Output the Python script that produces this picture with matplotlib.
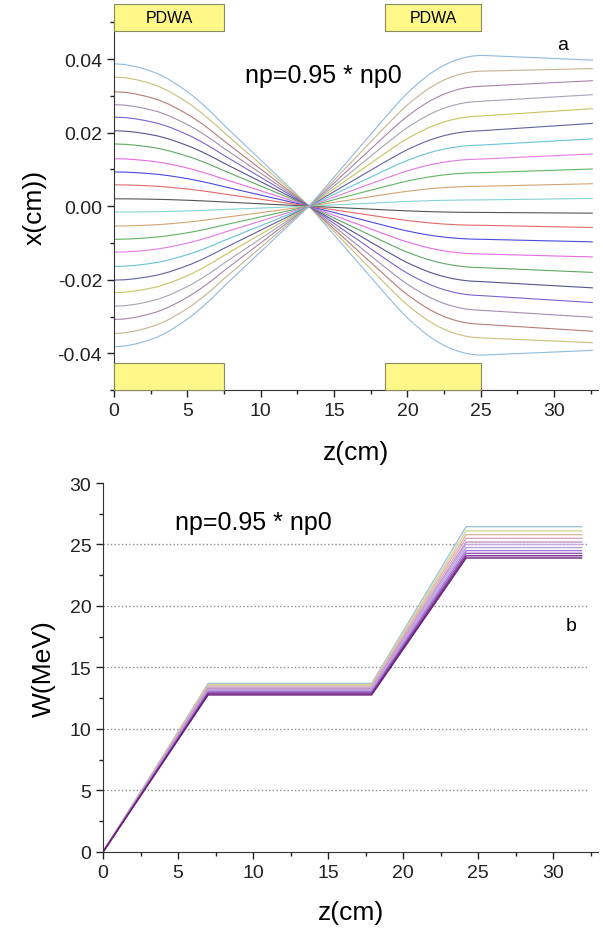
import numpy as np
import matplotlib
matplotlib.use('Agg')
import matplotlib.pyplot as plt
from matplotlib.patches import Rectangle
from matplotlib.ticker import MultipleLocator, FormatStrFormatter

plt.rcParams['font.family'] = 'Liberation Sans'

# ---- panel a: transverse trajectories --------------------------------------
# shape of the trajectories (normalised)
z_left = [0.0, 0.75, 1.5, 2.25, 3.0, 3.75, 4.5, 5.25, 6.0, 6.75, 7.5, 13.3]
prof_left = [1.0, 0.995, 0.98, 0.958, 0.93, 0.89, 0.84, 0.785, 0.72, 0.648, 0.57, 0.0]
z_right = [13.3, 18.5, 19.0, 19.5, 20.0, 20.5, 21.0, 21.5, 22.0, 22.5, 23.0, 23.5, 24.0, 24.5, 25.0]
prof_right = [0.0, 0.59, 0.645, 0.70, 0.75, 0.795, 0.837, 0.875, 0.907, 0.935, 0.957, 0.975, 0.988,
              0.996, 1.0]
z_stop = 32.6

# per-trajectory values: x at z=0, at z=25 and at the end
x_start = [0.0387, 0.0351, 0.0311, 0.0276, 0.0242, 0.0205, 0.0169, 0.0129, 0.0093, 0.0058, 0.0020,
           -0.0016, -0.0054, -0.0090, -0.0125, -0.0164, -0.0201, -0.0235, -0.0272, -0.0308, -0.0346, -0.0382]
x_at25 = [-0.0405, -0.0358, -0.0321, -0.0283, -0.0243, -0.0205, -0.0167, -0.0130, -0.0090, -0.0052, -0.0017,
          0.0017, 0.0054, 0.0091, 0.0128, 0.0166, 0.0205, 0.0245, 0.0285, 0.0326, 0.0367, 0.0410]
x_end = [-0.0392, -0.0371, -0.0340, -0.0302, -0.0262, -0.0222, -0.0180, -0.0138, -0.0097, -0.0058, -0.0019,
         0.0021, 0.0061, 0.0101, 0.0142, 0.0183, 0.0225, 0.0265, 0.0303, 0.0341, 0.0374, 0.0397]
traj_colors = ['#8fbcdc', '#c8c07a', '#b87a78', '#a38fb0', '#7d62d0', '#55558f', '#5fa862', '#e46be4',
               '#4a4ae0', '#e26a6a', '#555555', '#86d2d2', '#d4a474', '#62b462', '#e47ae4', '#68c4d8',
               '#62629e', '#c4c460', '#a4a4b4', '#a884a8', '#c4b490', '#90b8dc']

# ---- panel b: energy gain ----------------------------------------------------
z_w = [0.0, 7.0, 17.9, 24.2, 31.9]
w_stage1 = [13.70, 13.60, 13.50, 13.40, 13.30, 13.20, 13.12, 13.04, 12.95, 12.85, 12.76]
w_stage2 = [26.45, 26.10, 25.80, 25.50, 25.20, 25.00, 24.75, 24.50, 24.28, 24.08, 23.90]
w_colors = ['#9ec4dc', '#d8d49a', '#dcb89c', '#d8a8c8', '#c494c4', '#c8a8e4', '#b4a0dc',
            '#a878d8', '#9458b8', '#7a2c90', '#682078']

box_fc = '#fdf887'
box_ec = '#8a8a60'

fig = plt.figure(figsize=(6.03, 9.29), dpi=100)
fig.patch.set_facecolor('white')

# ── top panel ────────────────────────────────────────────────────────────────
ax = fig.add_axes([0.189, 0.579, 0.803, 0.396])
for i in range(len(x_start)):
    zz = np.concatenate([z_left, z_right[1:], [z_stop]])
    xx = np.concatenate([x_start[i] * np.array(prof_left),
                         x_at25[i] * np.array(prof_right[1:]), [x_end[i]]])
    ax.plot(zz, xx, color=traj_colors[i], lw=0.8)

ax.set_xlim(0, 33)
ax.set_ylim(-0.05, 0.05)
for x0, w in [(0, 7.5), (18.5, 6.5)]:
    ax.add_patch(Rectangle((x0, 0.0476), w, 0.0073, facecolor=box_fc, edgecolor=box_ec,
                           lw=0.8, clip_on=False, zorder=5))
    ax.text(x0 + w / 2, 0.0512, 'PDWA', ha='center', va='center', fontsize=11.5, zorder=6,
            clip_on=False)
    ax.add_patch(Rectangle((x0, -0.05), w, 0.0073, facecolor=box_fc, edgecolor=box_ec,
                           lw=0.8, clip_on=False, zorder=5))
ax.text(14.3, 0.0356, 'np=0.95 * np0', ha='center', va='center', fontsize=18)
ax.text(30.6, 0.0440, 'a', ha='center', va='center', fontsize=14)

ax.xaxis.set_major_locator(MultipleLocator(5))
ax.xaxis.set_minor_locator(MultipleLocator(2.5))
ax.yaxis.set_major_locator(MultipleLocator(0.02))
ax.yaxis.set_minor_locator(MultipleLocator(0.01))
ax.yaxis.set_major_formatter(FormatStrFormatter('%.2f'))
ax.set_xlabel('z(cm)', fontsize=19, labelpad=15)
ax.set_ylabel('x(cm))', fontsize=19, labelpad=8)

# ── bottom panel ─────────────────────────────────────────────────────────────
ax2 = fig.add_axes([0.171, 0.082, 0.821, 0.397])
for lvl in [5, 10, 15, 20, 25]:
    ax2.plot([0, 32.3], [lvl, lvl], color='#8a8a8a', ls=':', lw=1.0, zorder=1)
for i in range(len(w_stage1)):
    ww = [0.0, w_stage1[i], w_stage1[i], w_stage2[i], w_stage2[i]]
    ax2.plot(z_w, ww, color=w_colors[i], lw=1.0, zorder=2)
ax2.set_xlim(0, 33)
ax2.set_ylim(0, 30)
ax2.text(10.0, 26.8, 'np=0.95 * np0', ha='center', va='center', fontsize=18)
ax2.text(31.2, 18.4, 'b', ha='center', va='center', fontsize=14)
ax2.xaxis.set_major_locator(MultipleLocator(5))
ax2.xaxis.set_minor_locator(MultipleLocator(2.5))
ax2.yaxis.set_major_locator(MultipleLocator(5))
ax2.yaxis.set_minor_locator(MultipleLocator(2.5))
ax2.set_xlabel('z(cm)', fontsize=19, labelpad=14)
ax2.set_ylabel('W(MeV)', fontsize=19, labelpad=10)

for a in (ax, ax2):
    a.spines['top'].set_visible(False)
    a.spines['right'].set_visible(False)
    a.spines['left'].set_color('#333333')
    a.spines['bottom'].set_color('#333333')
    a.tick_params(which='major', direction='out', length=5, width=1, labelsize=14, colors='#222222')
    a.tick_params(which='minor', direction='out', length=3, width=1, colors='#222222')

fig.savefig('out.png', dpi=100, facecolor='white')
